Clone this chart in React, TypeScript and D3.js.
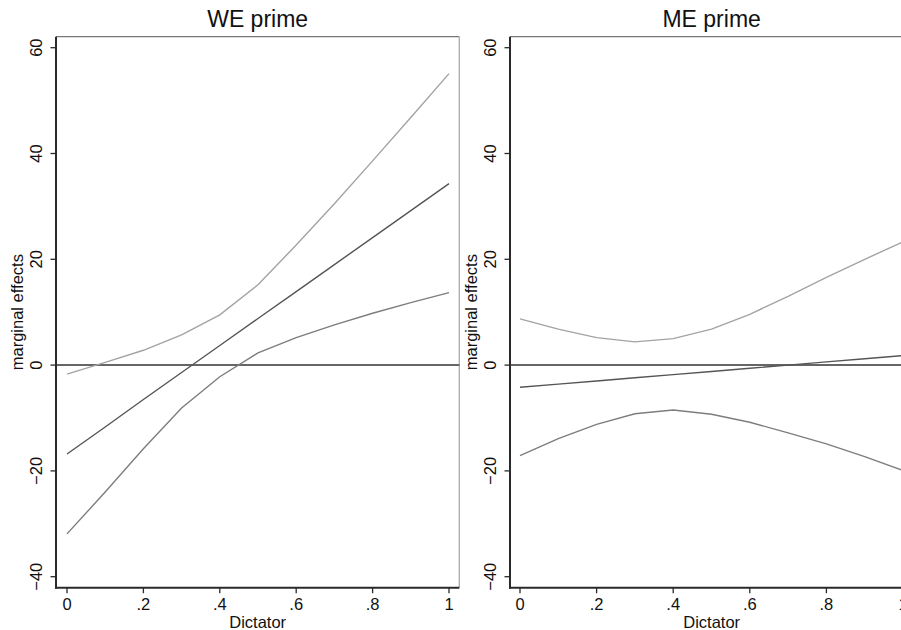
import React from "react";
import * as d3 from "d3";

const dictator = [0, 0.1, 0.2, 0.3, 0.4, 0.5, 0.6, 0.7, 0.8, 0.9, 1];

const weEstimate = [-16.8, -11.7, -6.5, -1.4, 3.7, 8.8, 13.9, 19.0, 24.1, 29.2, 34.3];
const weUpper = [-1.7, 0.5, 2.8, 5.7, 9.5, 15.2, 22.7, 30.5, 38.6, 46.8, 55.1];
const weLower = [-31.9, -24.0, -15.8, -8.1, -2.2, 2.3, 5.2, 7.6, 9.8, 11.8, 13.7];

const meEstimate = [-4.2, -3.6, -3.0, -2.4, -1.8, -1.2, -0.6, 0.0, 0.6, 1.2, 1.8];
const meUpper = [8.75, 6.8, 5.2, 4.4, 5.0, 6.8, 9.6, 13.0, 16.6, 20.0, 23.3];
const meLower = [-17.1, -13.9, -11.2, -9.2, -8.5, -9.3, -10.8, -12.8, -14.9, -17.3, -19.9];

const yTicks = [-40, -20, 0, 20, 40, 60];
const xTicks = [0, 0.2, 0.4, 0.6, 0.8, 1];
const xTickLabels = ["0", ".2", ".4", ".6", ".8", "1"];
const yTickLabels = ["\u221240", "\u221220", "0", "20", "40", "60"];

const titles = ["WE prime", "ME prime"];

const FONT = "'Liberation Sans', Arial, Helvetica, sans-serif";

type PanelProps = {
  title: string;
  est: number[];
  up: number[];
  lo: number[];
  frameLeft: number;
  frameRight: number;
  xStart: number;
  xEnd: number;
};

function Panel({ title, est, up, lo, frameLeft, frameRight, xStart, xEnd }: PanelProps) {
  const top = 36.7;
  const bottom = 587.7;
  const x = d3.scaleLinear().domain([0, 1]).range([xStart, xEnd]);
  const y = d3.scaleLinear().domain([-40, 60]).range([576.7, 47.7]);
  const line = d3
    .line<number>()
    .x((_, i) => x(dictator[i]))
    .y((d) => y(d));
  const center = (frameLeft + frameRight) / 2;
  const midY = (top + bottom) / 2;
  return (
    <g>
      <text x={center} y={27} fontSize={23} textAnchor="middle" fill="#111" fontFamily={FONT}>
        {title}
      </text>
      {/* frame */}
      <line x1={frameLeft} x2={frameRight} y1={top} y2={top} stroke="#777" strokeWidth={1.3} />
      <line x1={frameRight} x2={frameRight} y1={top} y2={bottom} stroke="#aaa" strokeWidth={1.3} />
      {/* zero line */}
      <line x1={frameLeft} x2={frameRight} y1={y(0)} y2={y(0)} stroke="#333" strokeWidth={1.5} />
      {/* series */}
      <path d={line(up) || ""} fill="none" stroke="#a3a3a3" strokeWidth={1.4} />
      <path d={line(lo) || ""} fill="none" stroke="#7d7d7d" strokeWidth={1.4} />
      <path d={line(est) || ""} fill="none" stroke="#555" strokeWidth={1.4} />
      {/* axes */}
      <line x1={frameLeft} x2={frameLeft} y1={top} y2={bottom + 1} stroke="#2a2a2a" strokeWidth={2} />
      <line x1={frameLeft - 1} x2={frameRight} y1={bottom} y2={bottom} stroke="#2a2a2a" strokeWidth={2} />
      {yTicks.map((t, i) => (
        <g key={"y" + t}>
          <line x1={frameLeft - 5.5} x2={frameLeft} y1={y(t)} y2={y(t)} stroke="#2a2a2a" strokeWidth={1.3} />
          <text
            transform={`translate(${frameLeft - 14.5},${y(t)}) rotate(-90)`}
            fontSize={16.5}
            textAnchor="middle"
            fill="#111"
            fontFamily={FONT}
          >
            {yTickLabels[i]}
          </text>
        </g>
      ))}
      {xTicks.map((t, i) => (
        <g key={"x" + t}>
          <line x1={x(t)} x2={x(t)} y1={bottom} y2={bottom + 5.5} stroke="#2a2a2a" strokeWidth={1.3} />
          <text x={x(t)} y={610} fontSize={16.5} textAnchor="middle" fill="#111" fontFamily={FONT}>
            {xTickLabels[i]}
          </text>
        </g>
      ))}
      <text
        transform={`translate(${frameLeft - 33},${midY}) rotate(-90)`}
        fontSize={16.5}
        textAnchor="middle"
        fill="#111"
        fontFamily={FONT}
      >
        marginal effects
      </text>
      <text x={center} y={628} fontSize={16.5} textAnchor="middle" fill="#111" fontFamily={FONT}>
        Dictator
      </text>
    </g>
  );
}

export default function App() {
  return (
    <svg
      width={901}
      height={630}
      style={{ position: "absolute", left: 0, top: 0, display: "block", background: "#fff" }}
    >
      <rect x={0} y={0} width={901} height={630} fill="#fff" />
      <Panel
        title={titles[0]}
        est={weEstimate}
        up={weUpper}
        lo={weLower}
        frameLeft={56}
        frameRight={459.3}
        xStart={67}
        xEnd={449}
      />
      <Panel
        title={titles[1]}
        est={meEstimate}
        up={meUpper}
        lo={meLower}
        frameLeft={510}
        frameRight={913.3}
        xStart={520}
        xEnd={903}
      />
    </svg>
  );
}
